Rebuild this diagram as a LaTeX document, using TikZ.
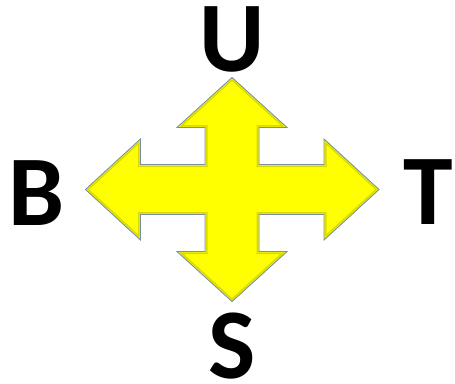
\documentclass[tikz,border=0pt]{standalone}
\usepackage{fontspec}
\setmainfont{Carlito}
\usepackage{tikz}
\definecolor{ArrowYellow}{HTML}{FFFF00}
\definecolor{BevelYellow}{HTML}{D9D900}
\definecolor{EdgeGray}{HTML}{7A8FA6}

\begin{document}
\begin{tikzpicture}[x=1pt,y=-1pt,
  letter/.style={anchor=base,inner sep=0pt,font=\fontsize{100}{100}\selectfont\bfseries}
]
\useasboundingbox (0,0) rectangle (455,383);
% four-way arrow
\def\crossarrow{(232,77.5) -- (287,127.5) -- (259,127.5) -- (259,164.5) -- (324,164.5)
  -- (324,139) -- (379,189.5) -- (324,240) -- (324,214.5) -- (259,214.5) -- (259,251.5)
  -- (287,251.5) -- (232,301.5) -- (177,251.5) -- (205,251.5) -- (205,214.5)
  -- (140.5,214.5) -- (140.5,240) -- (85.5,189.5) -- (140.5,139) -- (140.5,164.5)
  -- (205,164.5) -- (205,127.5) -- (177,127.5) -- cycle}
\fill[ArrowYellow] \crossarrow;
\begin{scope}
  \clip \crossarrow;
  \draw[BevelYellow,line width=5pt,line join=miter] \crossarrow;
  \draw[ArrowYellow!85!BevelYellow,line width=2pt] \crossarrow;
\end{scope}
\draw[EdgeGray,line width=0.9pt,line join=miter] \crossarrow;
% labels
\node[letter] (up) at (232,71) {U};
\node[letter] (back) at (37,225) {B};
\node[letter] (to) at (428,224) {T};
\node[letter] (side) at (232,378.5) {S};
\end{tikzpicture}
\end{document}
